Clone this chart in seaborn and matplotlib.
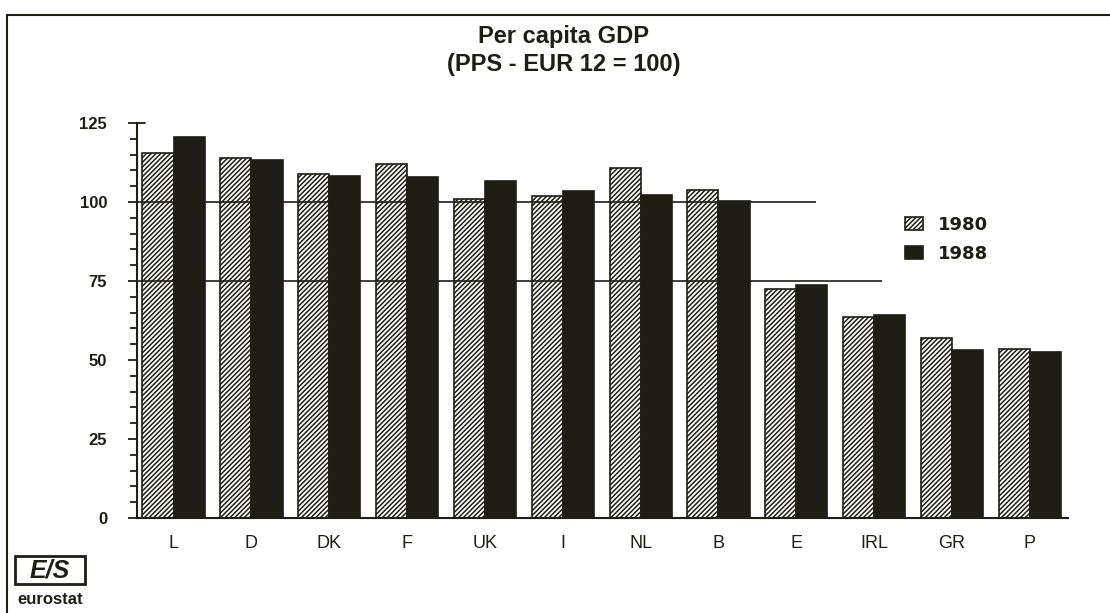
import pandas as pd
import matplotlib
matplotlib.use("Agg")
import matplotlib.pyplot as plt
import seaborn as sns
from matplotlib.patches import Rectangle, Patch
from matplotlib.ticker import MultipleLocator

# data
countries = ["L", "D", "DK", "F", "UK", "I", "NL", "B", "E", "IRL", "GR", "P"]
gdp_1980 = [115.6, 114.0, 108.8, 111.9, 100.8, 102.0, 110.7, 103.8, 72.5, 63.5, 56.9, 53.5]
gdp_1988 = [120.7, 113.3, 108.2, 108.0, 106.6, 103.5, 102.2, 100.2, 73.7, 64.2, 53.2, 52.6]
years = ["1980", "1988"]
ref_levels = [100, 75]
ref_ends = [8.25, 9.1]   # where the reference lines stop (category units)

df = pd.DataFrame({"country": countries * 2,
                   "year": [years[0]] * len(countries) + [years[1]] * len(countries),
                   "value": gdp_1980 + gdp_1988})

dark = "#1e1e16"

sns.set_theme(style="white")
plt.rcParams["font.family"] = ["Liberation Sans", "DejaVu Sans"]
plt.rcParams["hatch.linewidth"] = 1.1

fig = plt.figure(figsize=(11.1, 6.13), dpi=100)
ax = fig.add_axes([137 / 1110, 95 / 613, 931 / 1110, 395 / 613])

sns.barplot(data=df, x="country", y="value", hue="year", palette=["white", dark],
            saturation=1, edgecolor=dark, linewidth=1.2, width=0.8, gap=0,
            legend=False, ax=ax)
for bar in ax.containers[0]:
    bar.set_hatch("///////")

# reference lines at 100 and 75
xmin = -0.47
ax.hlines(ref_levels, xmin, ref_ends, color=dark, lw=1.2, zorder=4)

ax.set_xlim(xmin, len(countries) - 0.51)
ax.set_ylim(0, 125)
ax.set_yticks([0, 25, 50, 75, 100, 125])
ax.yaxis.set_minor_locator(MultipleLocator(5))
ax.set_xlabel("")
ax.set_ylabel("")

ax.tick_params(axis="y", which="major", left=True, direction="out", length=6.5,
               width=1.3, color=dark, pad=15, labelsize=12, labelcolor=dark)
ax.tick_params(axis="y", which="minor", left=True, direction="out", length=5,
               width=1.3, color=dark)
ax.tick_params(axis="x", length=0, pad=12, labelsize=13, labelcolor=dark)
for lab in ax.get_yticklabels():
    lab.set_fontweight("bold")

for s in ["top", "right"]:
    ax.spines[s].set_visible(False)
for s in ["left", "bottom"]:
    ax.spines[s].set_color(dark)
    ax.spines[s].set_linewidth(1.5)

# small cross bar at the top of the axis
ax.plot([0, 0.009], [125, 125], transform=ax.get_yaxis_transform(),
        color=dark, lw=1.3, clip_on=False)

# legend
handles = [Patch(facecolor="white", edgecolor=dark, hatch="///////", lw=1.2),
           Patch(facecolor=dark, edgecolor=dark, lw=1.2)]
ax.legend(handles, years, loc="upper left", bbox_to_anchor=(0.825, 0.765),
          frameon=False, borderaxespad=0, borderpad=0, handlelength=1.0,
          handleheight=0.72, handletextpad=0.8, labelspacing=0.6,
          prop={"family": "DejaVu Sans", "weight": "bold", "size": 13},
          labelcolor=dark)

# title
fig.text(564 / 1110, 1 - 37 / 613, "Per capita GDP", ha="center", va="center",
         fontsize=17, fontweight="bold", color=dark)
fig.text(564 / 1110, 1 - 65 / 613, "(PPS - EUR 12 = 100)", ha="center", va="center",
         fontsize=17, fontweight="bold", color=dark)

# outer frame
fig.patches.append(Rectangle((7 / 1110, -0.05), 1.1, 1 - 15 / 613 + 0.05,
                             transform=fig.transFigure, fill=False, lw=1.5, ec=dark))

# eurostat logo
fig.patches.append(Rectangle((15 / 1110, 1 - 584 / 613), 70 / 1110, 28 / 613,
                             transform=fig.transFigure, fill=False, lw=2, ec=dark))
fig.text(50 / 1110, 1 - 570 / 613, "E/S", ha="center", va="center", fontsize=18,
         fontweight="bold", fontstyle="italic", color=dark)
fig.text(50 / 1110, 1 - 599 / 613, "eurostat", ha="center", va="center", fontsize=12,
         fontweight="bold", color=dark)

fig.savefig("out.png", dpi=100)
